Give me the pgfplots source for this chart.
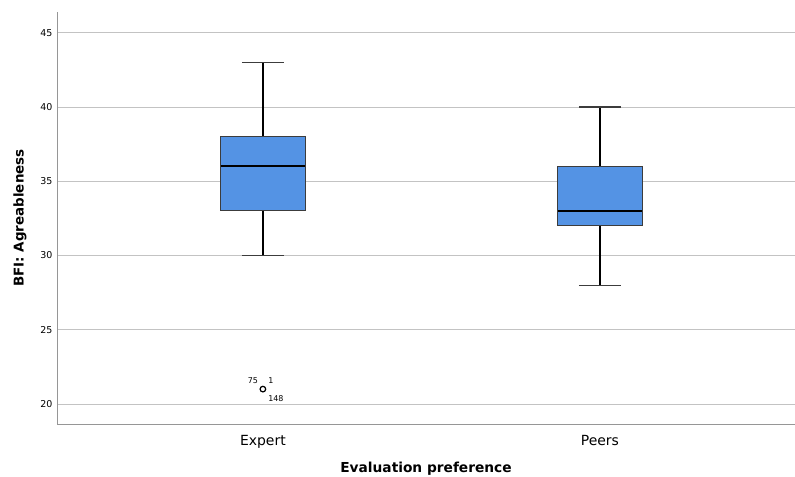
\documentclass[border=0pt]{standalone}
\usepackage{fontspec}
\setmainfont{DejaVu Sans}
\usepackage{pgfplots}
\pgfplotsset{compat=1.18}
\definecolor{boxblue}{RGB}{84,147,228}
\definecolor{gridgray}{RGB}{195,195,195}
\definecolor{axisgray}{RGB}{150,150,150}
\definecolor{edgegray}{RGB}{60,60,60}
\begin{document}
\begin{tikzpicture}
\useasboundingbox (0,0) rectangle (795bp,477bp);
\begin{axis}[
  at={(57bp,53bp)}, anchor=south west,
  scale only axis, width=738bp, height=412bp,
  xmin=0.389, xmax=2.579, ymin=18.65, ymax=46.4,
  axis x line*=bottom, axis y line*=left,
  axis line style={axisgray, line width=0.8bp, -},
  xtick={1,2}, xticklabels={Expert,Peers},
  ytick={20,25,30,35,40,45},
  major tick length=0pt,
  ymajorgrids, grid style={gridgray, line width=0.8bp},
  /pgf/number format/assume math mode=true,
  yticklabel style={font=\fontsize{9.5}{10}\selectfont, xshift=-1bp},
  xticklabel style={font=\fontsize{14}{16}\selectfont, yshift=-8bp},
  xlabel={\bfseries Evaluation preference},
  ylabel={\bfseries BFI: Agreableness},
  xlabel style={font=\fontsize{13.8}{15}\selectfont, yshift=-7bp},
  ylabel style={font=\fontsize{13.5}{15}\selectfont, yshift=7bp},
  unbounded coords=jump,
  clip=false,
]
% whiskers (Expert: 30-33, 38-43; Peers: 28-32, 36-40)
\addplot[black, line width=1.3bp] coordinates {
  (1,38) (1,43) (nan,nan) (1,30) (1,33) (nan,nan)
  (2,36) (2,40) (nan,nan) (2,28) (2,32)};
% whisker caps
\addplot[edgegray, line width=1.3bp] coordinates {
  (0.9375,43) (1.0625,43) (nan,nan) (0.9375,30) (1.0625,30) (nan,nan)
  (1.9375,40) (2.0625,40) (nan,nan) (1.9375,28) (2.0625,28)};
% boxes (q1, q3)
\addplot[fill=boxblue, draw=edgegray, line width=0.9bp] coordinates {
  (0.875,33) (1.125,33) (1.125,38) (0.875,38)} -- cycle;
\addplot[fill=boxblue, draw=edgegray, line width=0.9bp] coordinates {
  (1.875,32) (2.125,32) (2.125,36) (1.875,36)} -- cycle;
% medians
\addplot[black, line width=2bp] coordinates {
  (0.875,36) (1.125,36) (nan,nan) (1.875,33) (2.125,33)};
% outlier
\addplot[only marks, mark=o, mark size=2.8bp, mark options={black, fill=white, line width=1.2bp}]
  coordinates {(1,21)};
\node[font=\fontsize{8}{9}\selectfont] at ([shift={(-10bp,8bp)}]axis cs:1,21) {75};
\node[font=\fontsize{8}{9}\selectfont] at ([shift={(8bp,9bp)}]axis cs:1,21) {1};
\node[font=\fontsize{8}{9}\selectfont] at ([shift={(13bp,-9bp)}]axis cs:1,21) {148};
\end{axis}
\end{tikzpicture}
\end{document}
